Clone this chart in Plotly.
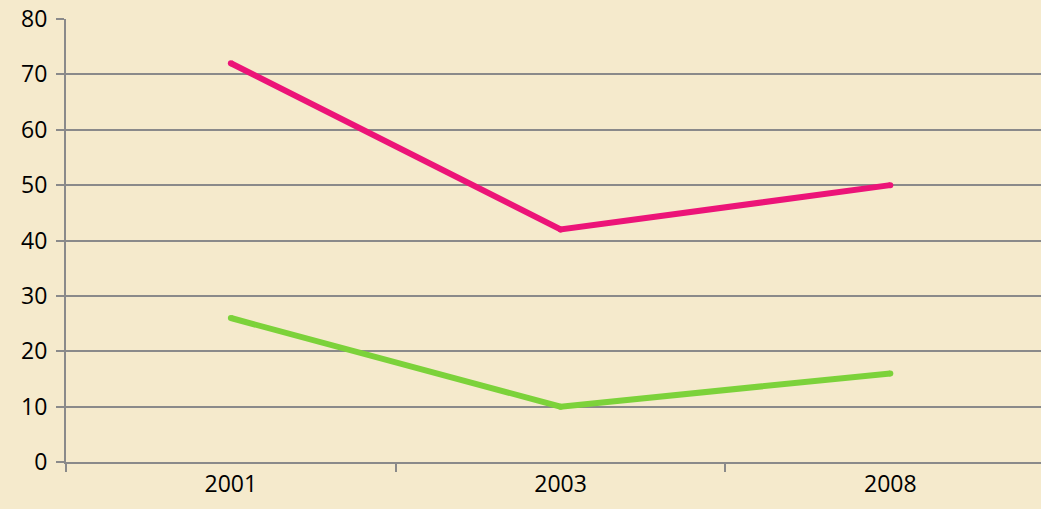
import plotly.graph_objects as go

years = ["2001", "2003", "2008"]
series_pink = [72, 42, 50]
series_green = [26, 10, 16]
y_ticks = [0, 10, 20, 30, 40, 50, 60, 70, 80]

fig = go.Figure()
fig.add_trace(go.Scatter(x=years, y=series_pink, mode="lines+markers",
                         line=dict(color="#EC1478", width=6),
                         marker=dict(color="#EC1478", size=6),
                         showlegend=False))
fig.add_trace(go.Scatter(x=years, y=series_green, mode="lines+markers",
                         line=dict(color="#7CD23A", width=6),
                         marker=dict(color="#7CD23A", size=6),
                         showlegend=False))

fig.update_layout(
    width=1041, height=509,
    margin=dict(l=66, r=0, t=19, b=47),
    paper_bgcolor="#F5EACC",
    plot_bgcolor="rgba(0,0,0,0)",
    font=dict(family="Open Sans, Lato, sans-serif", size=23, color="#000000"),
)
fig.update_xaxes(
    type="category", range=[-0.5, 2.457],
    tickson="boundaries", ticks="outside", ticklen=8, tickwidth=2, tickcolor="#8A8A8A",
    showgrid=False, showline=True, linecolor="#8A8A8A", linewidth=2,
    zeroline=False, tickfont=dict(size=23),
)
fig.update_yaxes(
    range=[0, 80], tickvals=y_ticks,
    ticks="outside", ticklen=8, tickwidth=2, tickcolor="#8A8A8A",
    showgrid=True, gridcolor="#8A8A8A", gridwidth=2,
    showline=True, linecolor="#8A8A8A", linewidth=2,
    zeroline=False, tickfont=dict(size=23), ticklabelstandoff=4,
)
fig.write_html(
    "out.html",
    config={"displayModeBar": False},
    post_script="document.body.style.margin='0';document.body.style.background='#F5EACC';",
)
